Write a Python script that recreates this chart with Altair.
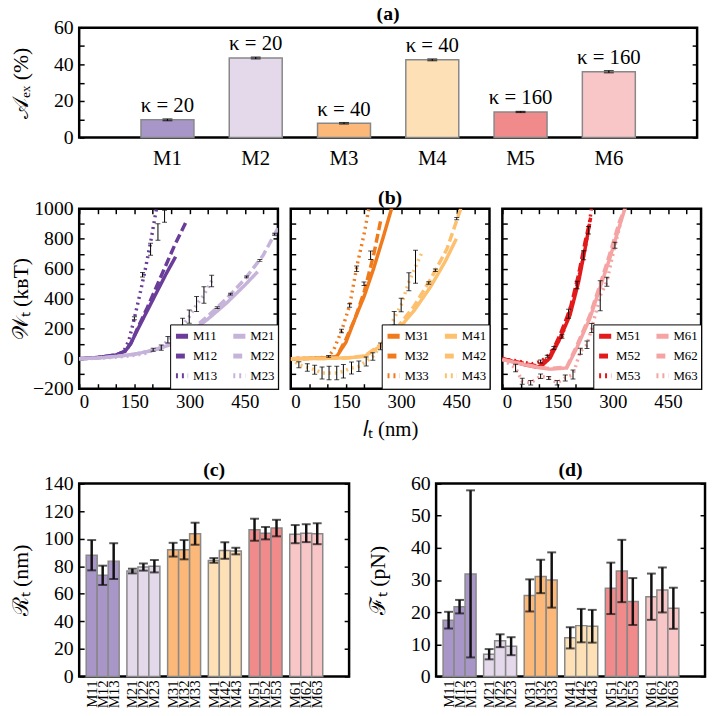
import altair as alt
import pandas as pd

SERIF = "Liberation Serif"

# ---------------- panel (a) ----------------
models = ["M1", "M2", "M3", "M4", "M5", "M6"]
area_ex = [9.7, 43.5, 7.8, 42.5, 14.0, 36.0]
area_err = [0.5, 0.5, 0.4, 0.5, 0.3, 0.6]
kappa = [20, 20, 40, 40, 160, 160]
model_colors = ["#a996c9", "#e4d8eb", "#fbb879", "#fde0b5", "#f18a8b", "#f9c6c7"]

# ---------------- panel (b) ----------------
M11_l = [0, 50, 100, 125, 140, 160, 185, 210, 235, 262]
M11_w = [0, 8, 25, 50, 100, 200, 320, 440, 560, 680]
M12_l = [0, 50, 100, 125, 140, 160, 185, 210, 235, 260, 292]
M12_w = [0, 8, 25, 50, 100, 210, 340, 480, 620, 760, 920]
M13_l = [0, 50, 100, 120, 135, 150, 165, 180, 195, 210]
M13_w = [0, 5, 20, 45, 120, 270, 430, 600, 790, 1000]
M21_l = [0, 50, 100, 150, 200, 250, 300, 350, 400, 450, 485]
M21_w = [0, 4, 15, 30, 55, 95, 170, 265, 370, 490, 580]
M22_l = [0, 50, 100, 150, 200, 250, 300, 350, 400, 450, 500, 540]
M22_w = [0, 4, 15, 30, 55, 100, 180, 285, 400, 530, 690, 870]
M23_l = [0, 50, 100, 150, 180, 200, 223, 241, 263, 281, 299, 319, 339, 360]
M23_w = [0, 3, 10, 22, 35, 55, 75, 125, 160, 220, 280, 360, 425, 520]
eb1_l = [150, 172, 194, 214, 232, 201, 223, 241, 263, 281, 299, 319, 339, 360, 375, 411, 455, 491, 531]
eb1_w = [270, 560, 730, 845, 950, 60, 74, 126, 160, 220, 281, 364, 425, 518, 340, 430, 545, 655, 830]
eb1_e = [10, 15, 40, 55, 40, 10, 18, 22, 45, 50, 44, 50, 55, 38, 6, 6, 6, 6, 6]

M31_l = [0, 50, 100, 125, 150, 175, 200, 225, 250, 275]
M31_w = [0, 2, 5, 15, 110, 270, 420, 600, 800, 1010]
M32_l = [0, 50, 100, 125, 150, 175, 200, 225, 245]
M32_w = [0, 2, 5, 15, 130, 270, 450, 690, 930]
M33_l = [0, 50, 100, 116, 138, 160, 180, 200, 212]
M33_w = [0, 2, 10, 55, 185, 355, 620, 840, 1000]
M41_l = [0, 100, 150, 200, 245, 290, 335, 380, 420, 450]
M41_w = [0, 2, 5, 15, 85, 190, 320, 480, 650, 800]
M42_l = [0, 100, 150, 200, 245, 290, 335, 380, 424, 462]
M42_w = [0, 2, 5, 18, 95, 210, 350, 530, 730, 1000]
M43_l = [0, 22, 45, 65, 85, 104, 125, 143, 165, 185, 205, 223, 244, 262, 281, 300, 321, 339, 355]
M43_w = [0, -40, -58, -73, -95, -95, -95, -84, -62, -51, -18, 15, 82, 170, 270, 358, 513, 613, 700]
eb2_l = [103, 138, 160, 179, 199, 217, 22, 45, 65, 85, 104, 125, 143, 165, 185, 205, 223, 244, 262, 281, 300, 321, 339, 375, 393, 451]
eb2_w = [15, 185, 355, 600, 500, 690, -40, -58, -73, -95, -95, -95, -84, -62, -51, -18, 15, 82, 170, 270, 358, 513, 613, 505, 590, 934]
eb2_e = [6, 12, 12, 18, 12, 28, 20, 25, 30, 40, 45, 45, 45, 40, 35, 30, 25, 22, 35, 45, 45, 60, 110, 8, 8, 8]

M51_l = [0, 30, 60, 94, 110, 130, 157, 184, 207, 225, 237]
M51_w = [0, -20, -40, -57, -40, 5, 137, 292, 510, 735, 900]
M52_l = [0, 30, 60, 94, 110, 130, 157, 184, 207, 225, 240]
M52_w = [0, -16, -32, -48, -30, 20, 160, 330, 560, 780, 940]
M53_l = [0, 40, 80, 104, 122, 140, 162, 180, 203, 221, 234, 242]
M53_w = [0, -15, -35, -18, 15, 71, 148, 300, 491, 690, 856, 1000]
M61_l = [0, 50, 100, 130, 175, 202, 238, 265, 292, 319, 333]
M61_w = [-5, -35, -60, -70, -62, 70, 270, 470, 670, 890, 1000]
M62_l = [0, 50, 100, 130, 175, 202, 238, 265, 292, 319, 335]
M62_w = [-5, -33, -57, -66, -55, 85, 290, 490, 700, 920, 1010]
M63_l = [0, 36, 54, 77, 104, 126, 149, 171, 192, 212, 230, 243, 266, 284, 306, 325]
M63_w = [-5, -62, -150, -161, -117, -128, -161, -128, -106, 49, 93, 204, 420, 513, 757, 940]
eb3_l = [104, 122, 140, 162, 180, 203, 221, 234, 36, 54, 77, 104, 126, 149, 171, 192, 212, 230, 243, 266, 284, 306]
eb3_w = [-18, 15, 71, 148, 300, 491, 690, 856, -62, -150, -161, -117, -128, -161, -128, -106, 49, 93, 204, 420, 513, 757]
eb3_e = [10, 8, 10, 12, 30, 25, 30, 25, 25, 20, 15, 15, 10, 15, 20, 30, 20, 25, 30, 100, 30, 20]

# ---------------- panels (c), (d) ----------------
members = ["M11", "M12", "M13", "M21", "M22", "M23", "M31", "M32", "M33",
           "M41", "M42", "M43", "M51", "M52", "M53", "M61", "M62", "M63"]
radius = [88, 73.4, 83.7, 76.5, 79.4, 80, 92, 92, 103.6, 84.2, 91.4, 91,
          106.5, 104, 107.7, 103.3, 104, 103.6]
radius_err = [11, 7, 13, 1.7, 2.6, 4.5, 5, 7, 8, 1.7, 6, 2.4, 8, 4.5, 6, 6.6, 6.5, 7.6]
force = [17.5, 21.7, 31.9, 6.9, 11.1, 9.4, 25.2, 31.1, 30, 12, 15.8, 15.6,
         27.4, 32.8, 23.3, 24.8, 26.9, 21.2]
force_err = [2.6, 2.1, 26, 1.6, 2, 2.8, 5, 5.2, 8.6, 3.3, 5.2, 5.1, 8, 9.7, 7.3, 7.2, 7, 6.4]

series_data = {
    "M11": (M11_l, M11_w), "M12": (M12_l, M12_w), "M13": (M13_l, M13_w),
    "M21": (M21_l, M21_w), "M22": (M22_l, M22_w), "M23": (M23_l, M23_w),
    "M31": (M31_l, M31_w), "M32": (M32_l, M32_w), "M33": (M33_l, M33_w),
    "M41": (M41_l, M41_w), "M42": (M42_l, M42_w), "M43": (M43_l, M43_w),
    "M51": (M51_l, M51_w), "M52": (M52_l, M52_w), "M53": (M53_l, M53_w),
    "M61": (M61_l, M61_w), "M62": (M62_l, M62_w), "M63": (M63_l, M63_w),
}


def ptitle(text, off):
    return alt.TitleParams(text, font=SERIF, fontSize=20, fontWeight="bold", offset=off)


YEXT = dict(tickSize=5, offset=-5, labelPadding=6, minExtent=48, maxExtent=48,
            titlePadding=4, titleFontSize=22, labelFontSize=20)

# ---------------- chart (a) ----------------
dfa = pd.DataFrame({"model": models, "val": area_ex, "err": area_err,
                    "color": model_colors})
dfa["lo"] = dfa["val"] - dfa["err"]
dfa["hi"] = dfa["val"] + dfa["err"]
dfa["klabel"] = ["κ = %d" % k for k in kappa]

xa = alt.X("model:N", scale=alt.Scale(domain=models, paddingInner=0.4, paddingOuter=0.7),
           axis=alt.Axis(title=None, labelAngle=0, ticks=False, labelFontSize=21, labelPadding=10))
ya_axis = alt.Axis(title="𝒜ₑₓ (%)", values=list(range(0, 61, 10)),
                   labelExpr="datum.value % 20 === 0 ? datum.label : ''", **YEXT)
ya_mirror = alt.Axis(orient="right", title=None, labels=False, values=list(range(0, 61, 10)),
                     tickSize=5, offset=-5)
ysc_a = alt.Scale(domain=[0, 60], nice=False)
a_bars = alt.Chart(dfa).mark_bar(stroke="#888888", strokeWidth=1.5).encode(
    x=xa, y=alt.Y("val:Q", scale=ysc_a, axis=ya_axis), fill=alt.Fill("color:N", scale=None))
a_rule = alt.Chart(dfa).mark_rule(color="black", strokeWidth=1.2).encode(
    x=xa, y=alt.Y("lo:Q", scale=ysc_a, axis=ya_axis), y2="hi:Q")
a_cap1 = alt.Chart(dfa).mark_tick(color="black", thickness=1.2, size=10, orient="horizontal").encode(
    x=xa, y=alt.Y("lo:Q", scale=ysc_a, axis=ya_axis))
a_cap2 = alt.Chart(dfa).mark_tick(color="black", thickness=1.2, size=10, orient="horizontal").encode(
    x=xa, y=alt.Y("hi:Q", scale=ysc_a, axis=ya_axis))
a_text = alt.Chart(dfa).mark_text(font=SERIF, fontSize=21, baseline="bottom", dy=-3).encode(
    x=xa, y=alt.Y("hi:Q", scale=ysc_a, axis=ya_axis), text="klabel:N")
a_mirror = alt.Chart(dfa).mark_point(opacity=0).encode(
    x=xa, y=alt.Y("val:Q", scale=ysc_a, axis=ya_mirror))
chart_a = alt.layer(alt.layer(a_bars, a_rule, a_cap1, a_cap2, a_text), a_mirror).resolve_axis(
    y="independent").properties(width=625, height=111, title=ptitle("(a)", -6))

# ---------------- chart (b) ----------------
PW, PH = 201, 182


def w_panel(names, dark, light, eb_l, eb_w, eb_e, first=False, middle=False):
    rows = []
    for s in names:
        ls, ws = series_data[s]
        for l, w in zip(ls, ws):
            rows.append({"series": s, "l": l, "w": w})
    df = pd.DataFrame(rows)
    order = names
    crange = [dark, dark, dark, light, light, light]
    drange = [[1, 0], [9, 4], [2, 4], [1, 0], [9, 4], [2, 4]]
    leg = alt.Legend(title=None, orient="bottom-right", offset=0, columns=2,
                     strokeColor="black", fillColor="white", padding=3,
                     symbolType="stroke", symbolStrokeWidth=5, symbolSize=150,
                     labelFont=SERIF, labelFontSize=13, rowPadding=0, columnPadding=5,
                     labelOffset=2)
    xsc = alt.Scale(domain=[0, 540], nice=False)
    ysc = alt.Scale(domain=[-200, 1000], nice=False)
    xvals = list(range(0, 541, 50))
    yvals = list(range(-200, 1001, 100))
    xax = alt.Axis(title="𝑙ₜ (nm)" if middle else None, values=xvals,
                   labelExpr="datum.value % 150 === 0 ? datum.label : ''",
                   tickSize=5, offset=-5, labelPadding=4, labelFontSize=19,
                   titleFontSize=21, titlePadding=7)
    yax = alt.Axis(title="𝒲ₜ (kʙT)" if first else None, values=yvals,
                   labelExpr="datum.value % 200 === 0 ? datum.label : ''", format="d",
                   labels=first, **YEXT)
    xm = alt.Axis(orient="top", title=None, labels=False, values=xvals, tickSize=5, offset=-5)
    ym = alt.Axis(orient="right", title=None, labels=False, values=yvals, tickSize=5, offset=-5)
    lines = alt.Chart(df).mark_line(clip=True, strokeWidth=3.5).encode(
        x=alt.X("l:Q", scale=xsc, axis=xax),
        y=alt.Y("w:Q", scale=ysc, axis=yax),
        color=alt.Color("series:N", scale=alt.Scale(domain=order, range=crange), legend=leg),
        strokeDash=alt.StrokeDash("series:N", scale=alt.Scale(domain=order, range=drange), legend=leg),
    )
    edf = pd.DataFrame({"l": eb_l, "w": eb_w, "e": eb_e})
    edf["lo"] = edf["w"] - edf["e"]
    edf["hi"] = edf["w"] + edf["e"]
    rule = alt.Chart(edf).mark_rule(color="black", strokeWidth=1, clip=True).encode(
        x=alt.X("l:Q", scale=xsc, axis=xax), y=alt.Y("lo:Q", scale=ysc, axis=yax), y2="hi:Q")
    cap1 = alt.Chart(edf).mark_tick(color="black", thickness=1, size=5, orient="horizontal", clip=True).encode(
        x=alt.X("l:Q", scale=xsc, axis=xax), y=alt.Y("lo:Q", scale=ysc, axis=yax))
    cap2 = alt.Chart(edf).mark_tick(color="black", thickness=1, size=5, orient="horizontal", clip=True).encode(
        x=alt.X("l:Q", scale=xsc, axis=xax), y=alt.Y("hi:Q", scale=ysc, axis=yax))
    mirror = alt.Chart(edf).mark_point(opacity=0).encode(
        x=alt.X("l:Q", scale=xsc, axis=xm), y=alt.Y("w:Q", scale=ysc, axis=ym))
    props = dict(width=PW, height=PH)
    if middle:
        props["title"] = ptitle("(b)", 0)
    return alt.layer(alt.layer(lines, rule, cap1, cap2), mirror).resolve_axis(
        x="independent", y="independent").properties(**props)


b1 = w_panel(["M11", "M12", "M13", "M21", "M22", "M23"], "#6a3d9a", "#c6b3da",
             eb1_l, eb1_w, eb1_e, first=True)
b2 = w_panel(["M31", "M32", "M33", "M41", "M42", "M43"], "#f07b1d", "#fcc06f",
             eb2_l, eb2_w, eb2_e, middle=True)
b3 = w_panel(["M51", "M52", "M53", "M61", "M62", "M63"], "#e31a1c", "#f5a3a3",
             eb3_l, eb3_w, eb3_e)
row_b = alt.hconcat(b1, b2, b3, spacing=13, bounds="flush").resolve_scale(
    color="independent", strokeDash="independent")

# ---------------- charts (c), (d) ----------------
groups = [m[:2] for m in members]
subs = [m[2] for m in members]
gcolor = dict(zip(models, model_colors))


def bar_panel(vals, errs, ymax, ystep, title, ytitle, w, h):
    df = pd.DataFrame({"name": members, "group": groups, "sub": subs, "val": vals, "err": errs})
    df["color"] = [gcolor[g] for g in groups]
    df["lo"] = df["val"] - df["err"]
    df["hi"] = df["val"] + df["err"]
    x = alt.X("group:N", scale=alt.Scale(domain=models, paddingInner=0.19, paddingOuter=0.41, align=0.21),
              axis=None)
    xo = alt.XOffset("sub:N", scale=alt.Scale(paddingInner=0, paddingOuter=0))
    ysc = alt.Scale(domain=[0, ymax], nice=False)
    yvals = list(range(0, ymax + 1, ystep))
    yax = alt.Axis(title=ytitle, values=yvals, **YEXT)
    ym = alt.Axis(orient="right", title=None, labels=False, values=yvals, tickSize=5, offset=-5)
    bars = alt.Chart(df).mark_bar(stroke="#888888", strokeWidth=1.5).encode(
        x=x, xOffset=xo, y=alt.Y("val:Q", scale=ysc, axis=yax), fill=alt.Fill("color:N", scale=None))
    rule = alt.Chart(df).mark_rule(color="#111111", strokeWidth=2.5).encode(
        x=x, xOffset=xo, y=alt.Y("lo:Q", scale=ysc, axis=yax), y2="hi:Q")
    cap1 = alt.Chart(df).mark_tick(color="#111111", thickness=2, size=9, orient="horizontal").encode(
        x=x, xOffset=xo, y=alt.Y("lo:Q", scale=ysc, axis=yax))
    cap2 = alt.Chart(df).mark_tick(color="#111111", thickness=2, size=9, orient="horizontal").encode(
        x=x, xOffset=xo, y=alt.Y("hi:Q", scale=ysc, axis=yax))
    labels = alt.Chart(df).mark_text(font=SERIF, fontSize=15, angle=270, align="right",
                                     baseline="middle").encode(
        x=x, xOffset=xo, y=alt.value(h + 4), text="name:N")
    mirror = alt.Chart(df).mark_point(opacity=0).encode(
        x=x, xOffset=xo, y=alt.Y("val:Q", scale=ysc, axis=ym))
    return alt.layer(alt.layer(bars, rule, cap1, cap2, labels), mirror).resolve_axis(
        y="independent").properties(width=w, height=h, title=ptitle(title, -6))


chart_c = bar_panel(radius, radius_err, 140, 20, "(c)", "ℛₜ (nm)", 273, 195)
chart_d = bar_panel(force, force_err, 60, 10, "(d)", "ℱₜ (pN)", 272, 195)
row_cd = alt.hconcat(chart_c, chart_d, spacing=88, bounds="flush")


def spacer(h):
    return alt.Chart(pd.DataFrame({"v": [0]})).mark_point(opacity=0).encode(
        x=alt.value(0), y=alt.value(0)).properties(
        width=1, height=h, view=alt.ViewBackground(stroke="transparent"))


chart = alt.vconcat(chart_a, spacer(11), row_b, spacer(11), row_cd, spacing=0).properties(
    padding={"left": 0, "top": -10, "right": 0, "bottom": 0}
).configure_view(stroke="black", strokeWidth=2.5).configure_axis(
    labelFont=SERIF, titleFont=SERIF, labelColor="black", titleColor="black",
    titleFontWeight="normal", tickColor="black", tickWidth=1.5, grid=False, domain=False
).configure_text(color="black")

chart.save("out.html", embed_options={"renderer": "svg", "actions": False})
